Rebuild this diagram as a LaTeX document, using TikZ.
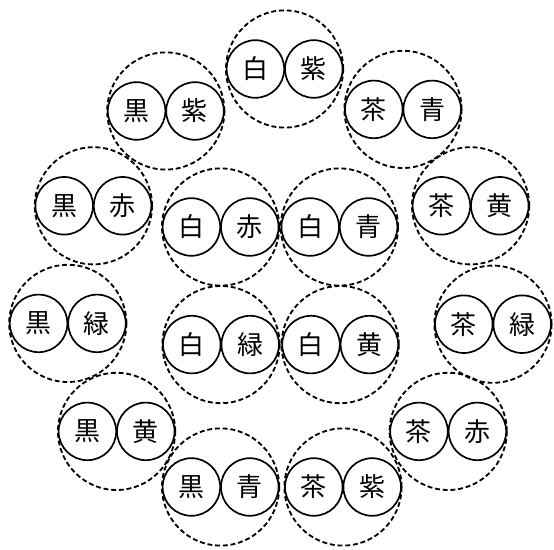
\documentclass[tikz,border=0pt]{standalone}
\usepackage{fontspec}
\setmainfont{Noto Sans CJK JP}
\usepackage{tikz}
\pgfdeclarelayer{nodelayer}
\pgfdeclarelayer{edgelayer}
\pgfsetlayers{edgelayer,nodelayer,main}
\tikzset{
	ring/.style={circle,draw,dash pattern=on 3.5pt off 2pt,line width=1.3pt,minimum size=2.93cm,inner sep=0pt},
	ball/.style={circle,draw,line width=1.2pt,minimum size=1.44cm,inner sep=0pt,font=\fontsize{18.5}{20}\selectfont}
}

\begin{document}
\begin{tikzpicture}
	\useasboundingbox (-6.925, -6.875) rectangle (6.925, 6.875);
	\begin{pgfonlayer}{edgelayer}
		\node [ring] (0) at (0.19, 5.15) {};
		\node [ring] (1) at (3.15, 4.14) {};
		\node [ring] (2) at (4.84, 1.73) {};
		\node [ring] (3) at (5.40, -1.23) {};
		\node [ring] (4) at (4.28, -3.91) {};
		\node [ring] (5) at (1.65, -5.30) {};
		\node [ring] (6) at (-1.41, -5.30) {};
		\node [ring] (7) at (-4.01, -3.91) {};
		\node [ring] (8) at (-5.23, -1.21) {};
		\node [ring] (9) at (-4.59, 1.73) {};
		\node [ring] (10) at (-2.78, 4.10) {};
		\node [ring] (11) at (-1.41, 1.20) {};
		\node [ring] (12) at (1.56, 1.20) {};
		\node [ring] (13) at (-1.40, -1.74) {};
		\node [ring] (14) at (1.58, -1.74) {};
	\end{pgfonlayer}
	\begin{pgfonlayer}{nodelayer}
		\node [ball] (15) at (-0.54, 5.15) {白};
		\node [ball] (16) at (0.92, 5.15) {紫};
		\node [ball] (17) at (2.42, 4.14) {茶};
		\node [ball] (18) at (3.88, 4.14) {青};
		\node [ball] (19) at (4.11, 1.73) {茶};
		\node [ball] (20) at (5.57, 1.73) {黄};
		\node [ball] (21) at (4.67, -1.23) {茶};
		\node [ball] (22) at (6.13, -1.23) {緑};
		\node [ball] (23) at (3.55, -3.91) {茶};
		\node [ball] (24) at (5.01, -3.91) {赤};
		\node [ball] (25) at (0.92, -5.30) {茶};
		\node [ball] (26) at (2.38, -5.30) {紫};
		\node [ball] (27) at (-2.14, -5.30) {黒};
		\node [ball] (28) at (-0.68, -5.30) {青};
		\node [ball] (29) at (-4.74, -3.91) {黒};
		\node [ball] (30) at (-3.28, -3.91) {黄};
		\node [ball] (31) at (-5.96, -1.21) {黒};
		\node [ball] (32) at (-4.50, -1.21) {緑};
		\node [ball] (33) at (-5.32, 1.73) {黒};
		\node [ball] (34) at (-3.86, 1.73) {赤};
		\node [ball] (35) at (-3.51, 4.10) {黒};
		\node [ball] (36) at (-2.05, 4.10) {紫};
		\node [ball] (37) at (-2.14, 1.20) {白};
		\node [ball] (38) at (-0.68, 1.20) {赤};
		\node [ball] (39) at (0.83, 1.20) {白};
		\node [ball] (40) at (2.29, 1.20) {青};
		\node [ball] (41) at (-2.13, -1.74) {白};
		\node [ball] (42) at (-0.67, -1.74) {緑};
		\node [ball] (43) at (0.85, -1.74) {白};
		\node [ball] (44) at (2.31, -1.74) {黄};
	\end{pgfonlayer}
\end{tikzpicture}
\end{document}
